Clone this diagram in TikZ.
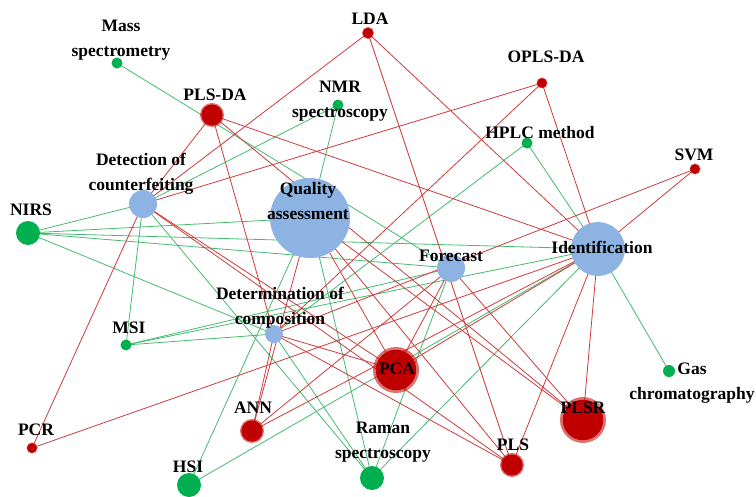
\documentclass[tikz,border=0pt]{standalone}
\usepackage{fontspec}
\setmainfont{Liberation Serif}
\usetikzlibrary{backgrounds}
\definecolor{bleu}{HTML}{8DB3E2}
\definecolor{vert}{HTML}{00B050}
\definecolor{rouge}{HTML}{C00000}
\definecolor{lvert}{HTML}{45BA70}
\definecolor{lrouge}{HTML}{D03A3A}
\tikzset{
  bnode/.style={circle,fill=bleu,inner sep=0pt,minimum size=#1},
  gnode/.style={circle,fill=vert,inner sep=0pt,minimum size=#1},
  rnode/.style={circle,fill=rouge,draw=rouge,draw opacity=.55,inner sep=0pt,minimum size=0.88*#1,line width=0.12*#1},
  lab/.style={font=\bfseries\fontsize{17.5}{25}\selectfont,align=center,inner sep=0pt},
  gedge/.style={lvert,line width=.8pt},
  redge/.style={lrouge,line width=.8pt},
}
\begin{document}
\begin{tikzpicture}[x=1pt,y=-1pt]
\useasboundingbox (0,0) rectangle (756,496);
% applications
\node[bnode=80pt] (qa) at (310,218) {};
\node[bnode=54pt] (idf) at (598,249) {};
\node[bnode=28pt] (fc) at (451,268) {};
\node[bnode=28pt] (doc) at (143,204) {};
\node[bnode=18pt] (dc) at (274,334) {};
% techniques
\node[gnode=11pt] (ms) at (117,63) {};
\node[gnode=11pt] (nmr) at (338,105) {};
\node[gnode=11pt] (hplc) at (527,143) {};
\node[gnode=24pt] (nirs) at (28,233) {};
\node[gnode=11pt] (msi) at (126,345) {};
\node[gnode=12pt] (gc) at (669,371) {};
\node[gnode=24pt] (raman) at (372,478) {};
\node[gnode=24pt] (hsi) at (189,485) {};
% algorithmes
\node[rnode=12pt] (lda) at (368,33) {};
\node[rnode=11pt] (oplsda) at (542,83) {};
\node[rnode=24pt] (plsda) at (212,115) {};
\node[rnode=11pt] (svm) at (695,169) {};
\node[rnode=46pt] (pca) at (396,370) {};
\node[rnode=46pt] (plsr) at (583,420) {};
\node[rnode=24pt] (ann) at (252,431) {};
\node[rnode=11pt] (pcr) at (32,448) {};
\node[rnode=24pt] (pls) at (512,465) {};
% liens
\begin{pgfonlayer}{background}
\foreach \a/\b in {ms/fc,nmr/doc,nmr/qa,hplc/idf,hplc/dc,nirs/doc,nirs/qa,nirs/idf,nirs/fc,nirs/dc,
  msi/doc,msi/dc,msi/fc,msi/idf,gc/idf,raman/idf,raman/doc,raman/qa,raman/fc,raman/dc,hsi/idf,hsi/qa}
  \draw[gedge] (\a.center) -- (\b.center);
\foreach \a/\b in {lda/doc,lda/idf,lda/pls,oplsda/doc,oplsda/idf,oplsda/dc,plsda/doc,plsda/dc,plsda/idf,plsda/plsr,
  svm/idf,svm/dc,pcr/doc,pcr/idf,ann/dc,ann/idf,ann/qa,ann/fc,pca/doc,pca/qa,pca/fc,pca/idf,pca/dc,
  plsr/idf,plsr/qa,plsr/fc,pls/idf,pls/dc,pls/doc,pls/qa}
  \draw[redge] (\a.center) -- (\b.center);
\end{pgfonlayer}
% textes
\node[lab] (tms) at (121,40) {Mass\\spectrometry};
\node[lab] (tlda) at (370,19) {LDA};
\node[lab] (tplsda) at (215,95) {PLS-DA};
\node[lab] (tnmr) at (340,101) {NMR\\spectroscopy};
\node[lab] (topls) at (546,57) {OPLS-DA};
\node[lab] (thplc) at (540,133) {HPLC method};
\node[lab] (tsvm) at (694,155) {SVM};
\node[lab] (tdoc) at (141,174) {Detection of\\counterfeiting};
\node[lab] (tnirs) at (31,210) {NIRS};
\node[lab] (tqa) at (308,201) {Quality\\assessment};
\node[lab] (tfc) at (451,256) {Forecast};
\node[lab] (tidf) at (602,247) {Identification};
\node[lab] (tdc) at (280,308) {Determination of\\composition};
\node[lab] (tmsi) at (129,328) {MSI};
\node[lab] (tpca) at (397,369) {PCA};
\node[lab] (tgc) at (692,383) {Gas\\chromatography};
\node[lab] (tplsr) at (583,408) {PLSR};
\node[lab] (tann) at (253,408) {ANN};
\node[lab] (tpcr) at (36,430) {PCR};
\node[lab] (tpls) at (513,445) {PLS};
\node[lab] (traman) at (383,442) {Raman\\spectroscopy};
\node[lab] (thsi) at (188,467) {HSI};
\end{tikzpicture}
\end{document}
